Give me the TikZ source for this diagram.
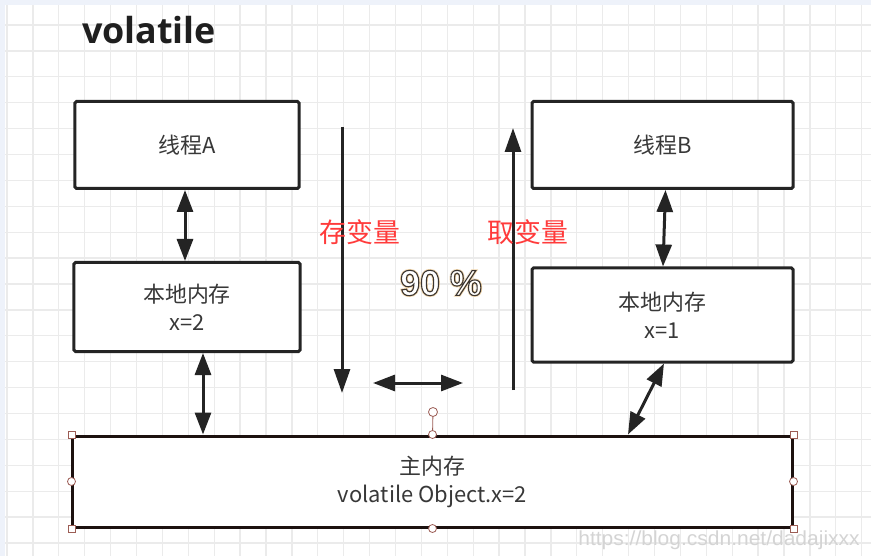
\documentclass[tikz,border=0pt]{standalone}
\usepackage{fontspec}
\setmainfont{Noto Sans CJK SC}
\newfontfamily\titlefont{Open Sans}
\newfontfamily\arialfont{Liberation Sans}
\usetikzlibrary{arrows.meta}
\definecolor{gridc}{HTML}{EBEBEB}
\definecolor{bandc}{HTML}{EEF2FA}
\definecolor{boxc}{HTML}{242424}
\definecolor{txtc}{HTML}{383838}
\definecolor{redc}{HTML}{FF3B3B}
\definecolor{handc}{HTML}{9C5D55}
\definecolor{halo}{HTML}{EFD3A8}
\definecolor{outl}{HTML}{3B3530}
\newcommand{\strokedtext}[3]{{\color{#1}\special{pdf:literal direct #2 w 1 Tr}#3\special{pdf:literal direct 0 Tr}}}
\newcommand{\outlinedtext}[1]{\rlap{\strokedtext{halo}{2.6}{#1}}\rlap{\color{white}#1}\strokedtext{outl}{1.1}{#1}}
\tikzset{
  box/.style={draw=boxc, line width=3bp, fill=white, rounded corners=1.5bp, align=center, text=txtc, font=\fontsize{22}{28}\selectfont, inner sep=0pt},
  arr/.style={draw=boxc, line width=3bp, -{Triangle[width=16bp,length=24bp]}},
  dbl/.style={draw=boxc, line width=3bp, {Triangle[width=16bp,length=22bp]}-{Triangle[width=16bp,length=22bp]}},
  redtxt/.style={text=redc, font=\fontsize{27}{30}\selectfont, inner sep=0pt},
  n90/.style={font=\arialfont\bfseries\fontsize{36}{40}\selectfont, inner sep=0pt},
  sqh/.style={draw=handc, fill=white, line width=0.8bp, minimum size=7bp, inner sep=0pt, rectangle},
  cih/.style={draw=handc, fill=white, line width=0.8bp, minimum size=8bp, inner sep=0pt, circle},
}
\begin{document}
\begin{tikzpicture}[x=1bp,y=-1bp]
\useasboundingbox (0,0) rectangle (871,556);
\fill[white] (0,0) rectangle (871,556);
% grid
\foreach \i in {0,...,33} \draw[gridc, line width=1.3bp] ({7+25.9*\i},5) -- ({7+25.9*\i},556);
\foreach \j in {0,...,20} \draw[gridc, line width=1.3bp] (5,{25+25.9*\j}) -- (871,{25+25.9*\j});
\fill[bandc] (0,0) rectangle (871,5);
\fill[bandc] (0,0) rectangle (5,556);

% title
\node[font=\titlefont\bfseries\fontsize{36}{40}\selectfont, text=black!88, inner sep=0pt] (title) at (149,30) {volatile};

% boxes
\node[box, minimum width=224bp, minimum height=87bp] (tA) at (187,145) {线程A};
\node[box, minimum width=226bp, minimum height=89bp] (lA) at (187,307) {本地内存\\x=2};
\node[box, minimum width=261bp, minimum height=87bp] (tB) at (662.5,145) {线程B};
\node[box, minimum width=261bp, minimum height=94bp] (lB) at (662.5,315) {本地内存\\x=1};
\node[box, rounded corners=0pt, draw=black!82!handc, minimum width=719bp, minimum height=91bp] (main) at (432.5,481.5) {主内存\\volatile Object.x=2};

% handles on main box
\coordinate (hTop) at (433,412);
\draw[handc, line width=0.8bp] (hTop) -- (main.north);
\node[cih, minimum size=9bp] (hc) at (hTop) {};
\node[sqh] (h1) at (main.north west) {};
\node[sqh] (h2) at (main.north east) {};
\node[sqh] (h3) at (main.south west) {};
\node[sqh] (h4) at (main.south east) {};
\node[cih] (h5) at (main.north) {};
\node[cih] (h6) at (main.south) {};
\node[cih] (h7) at (main.west) {};
\node[cih] (h8) at (main.east) {};

% connectors
\coordinate (xa) at (185,0);
\coordinate (xb) at (203,0);
\coordinate (xc) at (628,0);
\draw[dbl] (tA.south -| xa) -- (lA.north -| xa);
\draw[dbl] (lA.south -| xb) -- (main.north -| xb);
\draw[dbl] ([xshift=3bp]tB.south) -- ([xshift=0.5bp]lB.north);
\draw[dbl] ([xshift=1.5bp]lB.south) -- (main.north -| xc);

\coordinate (d1) at (342,127);
\coordinate (d2) at (342,393);
\coordinate (u1) at (513,390);
\coordinate (u2) at (513,128);
\coordinate (h1a) at (373,383);
\coordinate (h1b) at (463,383);
\draw[arr] (d1) -- (d2);
\draw[arr] (u1) -- (u2);
\draw[dbl] (h1a) -- (h1b);

% red labels
\node[redtxt] (cun) at (360,232) {存变量};
\node[redtxt] (qu) at (528,232) {取变量};

% 90 %
\node[n90] (n90) at (441,283) {\outlinedtext{90 \%}};

% watermark
\node[text=black!17, inner sep=0pt, font=\arialfont\fontsize{17}{18}\selectfont] (wm) at (719,540) {\scalebox{1.24}[1.2]{https://blog.csdn.net/dadajixxx}};
\end{tikzpicture}
\end{document}
